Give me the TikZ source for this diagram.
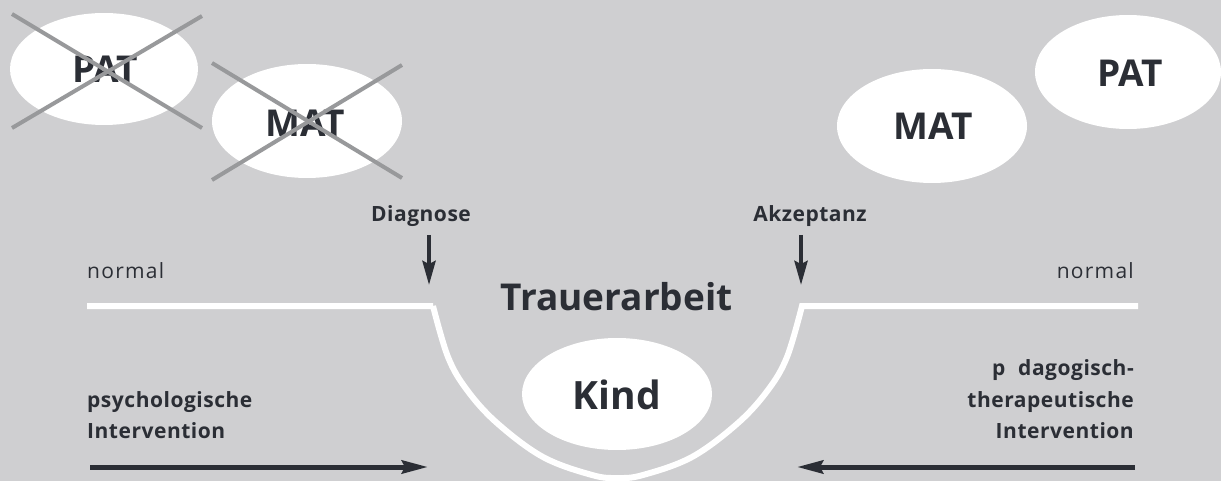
\documentclass[tikz,border=0pt]{standalone}
\usepackage{fontspec}
\setmainfont{Open Sans}[Ligatures=NoCommon]
\usetikzlibrary{arrows.meta}
\definecolor{bg}{HTML}{CFCFD1}
\definecolor{ink}{HTML}{2B2E35}
\definecolor{strike}{HTML}{98999B}
\tikzset{
  big/.style={font=\fontsize{37}{40}\selectfont\bfseries, text=ink, anchor=base, inner sep=0pt},
  small/.style={font=\fontsize{21}{31}\selectfont\bfseries\addfontfeatures{LetterSpace=2.5}, text=ink, inner sep=0pt},
  plain/.style={font=\fontsize{21}{31}\selectfont\addfontfeatures{LetterSpace=6}, text=ink, inner sep=0pt},
  crossline/.style={draw=strike, line width=4pt},
  pointer/.style={draw=ink, line width=4pt, -{Stealth[length=24pt,width=13pt,inset=3pt]}},
  push/.style={draw=ink, line width=5pt, -{Stealth[length=26pt,width=13pt,inset=3pt]}},
  course/.style={draw=white, line width=6pt, line join=miter},
}
\begin{document}
\begin{tikzpicture}[x=1pt,y=-1pt]
\useasboundingbox (0,0) rectangle (1221,481);
\fill[bg] (0,0) rectangle (1221,481);

% parents before the diagnosis (struck out)
\fill[white] (104,69) ellipse [x radius=94, y radius=56];
\node[big] (patA) at (105,83) {PAT};
\fill[white] (307,121) ellipse [x radius=95, y radius=57];
\node[big] (matA) at (305,137) {MAT};
\coordinate (pa1) at (12,14);  \coordinate (pa2) at (202,128);
\coordinate (pa3) at (12,128); \coordinate (pa4) at (202,16);
\draw[crossline] (pa1) -- (pa2);
\draw[crossline] (pa3) -- (pa4);
\coordinate (ma1) at (212,63);  \coordinate (ma2) at (402,178);
\coordinate (ma3) at (212,180); \coordinate (ma4) at (402,65);
\draw[crossline] (ma1) -- (ma2);
\draw[crossline] (ma3) -- (ma4);

% parents after acceptance
\fill[white] (932,126) ellipse [x radius=95, y radius=57];
\node[big] (matB) at (933,140) {MAT};
\fill[white] (1128,72) ellipse [x radius=93, y radius=57];
\node[big] (patB) at (1130,87) {PAT};

% the course of mourning
\draw[course] (87,306) -- (433,306)
  plot[smooth, tension=0.6] coordinates {(433,306) (448,357) (467,390) (497,423) (543,457) (592,475) (617.5,478)
    (643,475) (692,457) (738,423) (768,390) (787,357) (802,306)}
  -- (1138,306);

\fill[white] (617,394) ellipse [x radius=95, y radius=56];
\node[big, font=\fontsize{39}{41}\selectfont\bfseries] (kind) at (617,409) {Kind};
\node[big] (trauer) at (616.5,310) {Trauerarbeit};

% labels
\node[small, anchor=base] (diag) at (421,222) {Diagnose};
\node[small, anchor=base] (akz) at (810,222) {Akzeptanz};
\node[plain, anchor=base west] (normL) at (87,279) {normal};
\node[plain, anchor=base east] (normR) at (1134,279) {normal};
\node[small, anchor=base west] (psy) at (87,407) {psychologische};
\node[small, anchor=base west] (psyI) at (87,438) {Intervention};
\node[small, anchor=base east] (paed) at (1134,375) {p\phantom{a}dagogisch-};
\node[small, anchor=base east] (ther) at (1134,407) {therapeutische};
\node[small, anchor=base east] (paedI) at (1134,438) {Intervention};

% arrows
\coordinate (d0) at (429,235); \coordinate (d1) at (429,285);
\draw[pointer] (d0) -- (d1);
\coordinate (a0) at (801,235); \coordinate (a1) at (801,285);
\draw[pointer] (a0) -- (a1);
\coordinate (l0) at (90,467); \coordinate (l1) at (428,467);
\draw[push] (l0) -- (l1);
\coordinate (r0) at (1135,467); \coordinate (r1) at (797,467);
\draw[push] (r0) -- (r1);
\end{tikzpicture}
\end{document}
